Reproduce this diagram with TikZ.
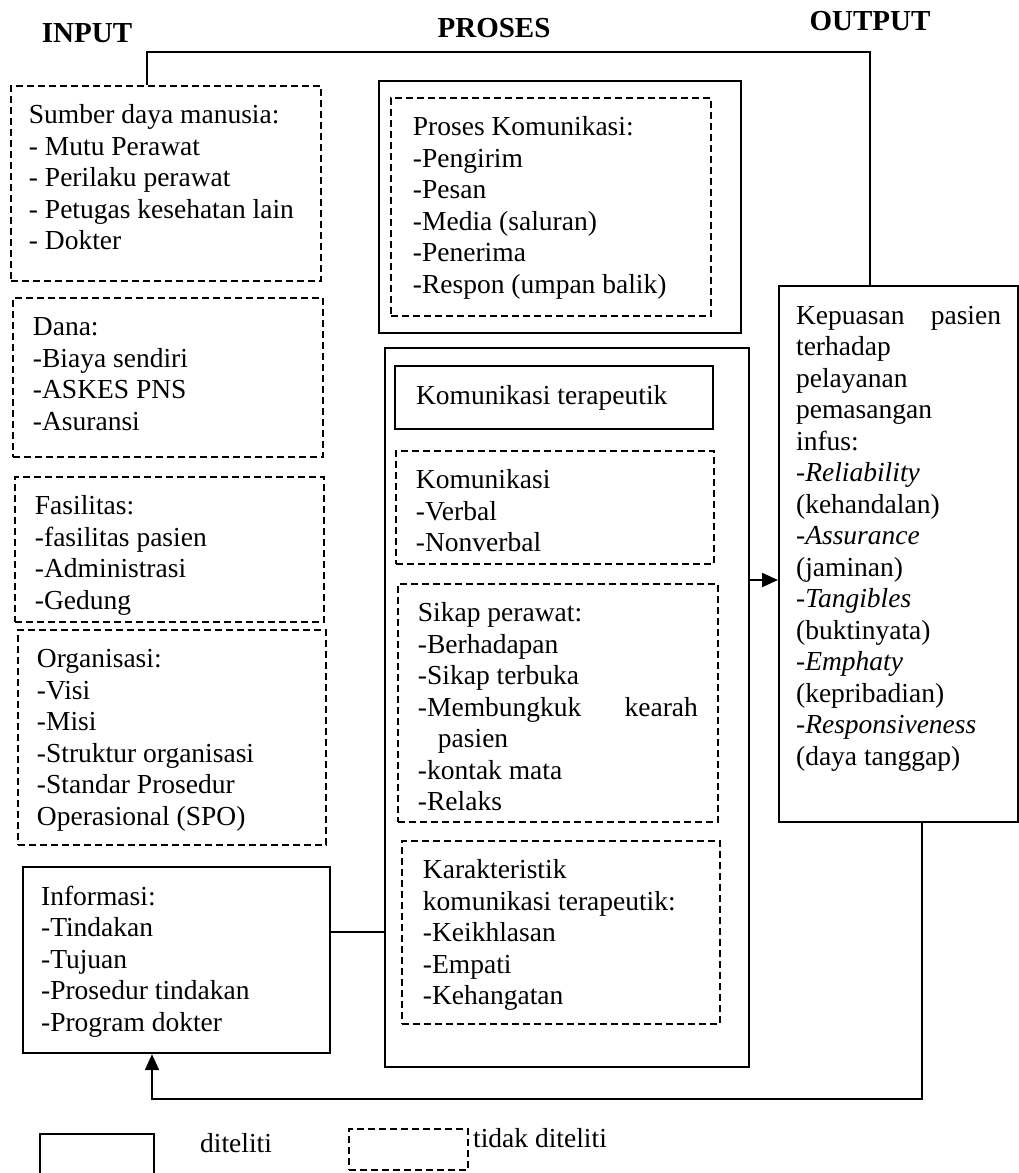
\documentclass[tikz,border=0pt]{standalone}
\usepackage{fontspec}
\setmainfont{Liberation Serif}
\usetikzlibrary{arrows.meta}
\newcommand{\isi}[3]{\parbox[c][#2pt][t]{#1pt}{\raggedright\rule{0pt}{38pt}#3}}
\tikzset{
  kotak/.style={draw, line width=2.2pt, anchor=north west, inner xsep=19pt, inner ysep=0pt},
  kotakputus/.style={kotak, line width=1.9pt, dash pattern=on 7pt off 4pt},
  kosong/.style={kotak, inner sep=0pt},
  judul/.style={font=\fontsize{29}{33}\selectfont\bfseries, inner sep=0pt},
  label/.style={anchor=base west, inner sep=0pt},
  panah/.style={line width=2.2pt, -{Triangle[length=16pt,width=14pt]}},
  garis/.style={line width=2.2pt}
}

\begin{document}
\begin{tikzpicture}[x=1pt, y=-1pt, font=\fontsize{27.5}{31.5}\selectfont]
  \useasboundingbox (0,0) rectangle (1019,1173);
  \clip (0,0) rectangle (1019,1173);
  \fill[white] (0,0) rectangle (1019,1173);

  \node[judul] (input) at (87,33) {INPUT};
  \node[judul] (proses) at (494,28) {PROSES};
  \node[judul] (output) at (870,21) {OUTPUT};

  % input
  \node[kotakputus, inner xsep=18pt] (sdm) at (10,85) {\isi{274}{195}{Sumber daya manusia:\\- Mutu Perawat\\- Perilaku perawat\\- Petugas kesehatan lain\\- Dokter}};
  \node[kotakputus, inner xsep=20pt] (dana) at (12,297) {\isi{270}{159}{Dana:\\-Biaya sendiri\\-ASKES PNS\\-Asuransi}};
  \node[kotakputus, inner xsep=20pt] (fasilitas) at (14,476) {\isi{269}{145}{Fasilitas:\\-fasilitas pasien\\-Administrasi\\-Gedung}};
  \node[kotakputus] (organisasi) at (17,629) {\isi{270}{215}{Organisasi:\\-Visi\\-Misi\\-Struktur organisasi\\-Standar Prosedur\\Operasional (SPO)}};
  \node[kotak, inner xsep=18pt] (informasi) at (22,866) {\isi{271}{186}{Informasi:\\-Tindakan\\-Tujuan\\-Prosedur tindakan\\-Program dokter}};

  % proses
  \node[kosong, minimum width=362pt, minimum height=252pt] (prosesluar) at (378,80) {};
  \node[kotakputus, inner xsep=22pt] (komunikasi) at (390,97) {\isi{276}{218}{Proses Komunikasi:\\-Pengirim\\-Pesan\\-Media (saluran)\\-Penerima\\-Respon (umpan balik)}};
  \node[kosong, minimum width=364pt, minimum height=719pt] (terapeutik) at (384,347) {};
  \node[kotak, inner xsep=21pt] (kt) at (394,365) {\isi{276}{63}{Komunikasi terapeutik}};
  \node[kotakputus, inner xsep=20pt] (verbal) at (395,450) {\isi{278}{113}{Komunikasi\\-Verbal\\-Nonverbal}};
  \node[kotakputus, inner xsep=20pt] (sikap) at (397,583) {\isi{280}{238}{Sikap perawat:\\-Berhadapan\\-Sikap terbuka\\-Membungkuk\hfill kearah\\\hspace*{20pt}pasien\\-kontak mata\\-Relaks}};
  \node[kotakputus, inner xsep=21pt] (karakteristik) at (401,840) {\isi{276}{183}{Karakteristik\\komunikasi terapeutik:\\-Keikhlasan\\-Empati\\-Kehangatan}};

  % output
  \node[kotak, inner xsep=17pt] (kepuasan) at (778,285) {\isi{205}{536}{Kepuasan\hfill pasien\\terhadap\\pelayanan\\pemasangan\\infus:\\-\textit{Reliability}\\(kehandalan)\\-\textit{Assurance}\\(jaminan)\\-\textit{Tangibles}\\(buktinyata)\\-\textit{Emphaty}\\(kepribadian)\\-\textit{Responsiveness}\\(daya tanggap)}};

  % connectors
  \coordinate (kiriatas) at (147,52);
  \coordinate (kananatas) at (870,52);
  \draw[garis] (kiriatas |- sdm.north) -- (kiriatas) -- (kananatas) -- (kananatas |- kepuasan.north);
  \draw[panah] (terapeutik.east |- 0,580) -- (kepuasan.west |- 0,580);
  \draw[garis] (informasi.east |- 0,932) -- (terapeutik.west |- 0,932);
  \coordinate (kananbawah) at (922,1099);
  \coordinate (kiribawah) at (152,1099);
  \draw[panah] (kananbawah |- kepuasan.south) -- (kananbawah) -- (kiribawah) -- (kiribawah |- informasi.south);

  % legenda
  \node[kosong, minimum width=114pt, minimum height=60pt] (legditeliti) at (39,1133) {};
  \node[label] (diteliti) at (200,1152) {diteliti};
  \node[kotakputus, inner sep=0pt, minimum width=119pt, minimum height=41pt] (legtidak) at (348,1128) {};
  \node[label] (tidakditeliti) at (473,1147) {tidak diteliti};
\end{tikzpicture}
\end{document}
